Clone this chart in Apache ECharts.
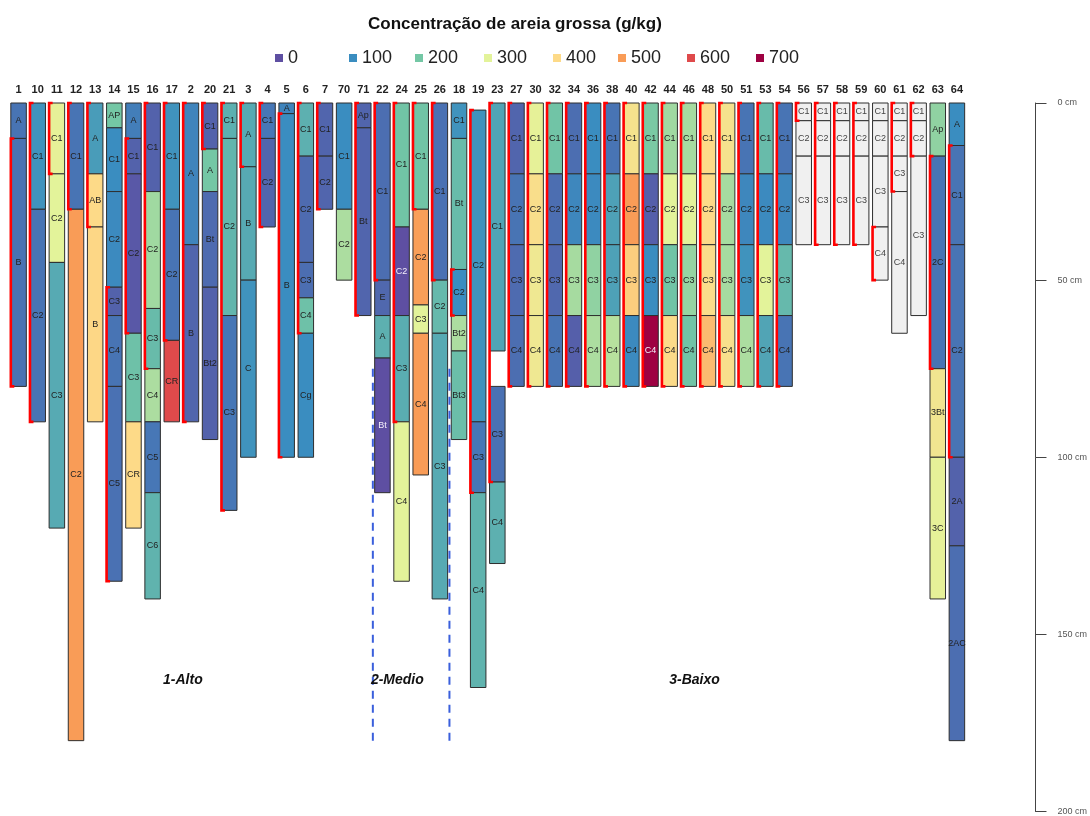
<!DOCTYPE html>
<html>
<head>
<meta charset="utf-8">
<script src="https://cdn.jsdelivr.net/npm/echarts@6/dist/echarts.min.js"></script>
<style>
  html, body { margin: 0; padding: 0; background: #ffffff; }
  #chart { width: 1090px; height: 816px; }
</style>
</head>
<body>
<div id="chart"></div>
<script>
// Profile order along the transect (column labels at the top)
const profiles = ['1','10','11','12','13','14','15','16','17','2','20','21','3','4','5','6','7','70','71',
                  '22','24','25','26',
                  '18','19','23','27','30','32','34','36','38','40','42','44','46','48','50','51','53','54',
                  '56','57','58','59','60','61','62','63','64'];

// Horizons: [profile, top cm, bottom cm, designation, coarse sand g/kg]
const horizonsAlto = [
  ['1',0,10,'A',60], ['1',10,80,'B',58],
  ['10',0,30,'C1',110], ['10',30,90,'C2',60],
  ['11',0,20,'C1',310], ['11',20,45,'C2',300], ['11',45,120,'C3',150],
  ['12',0,30,'C1',60], ['12',30,180,'C2',500],
  ['13',0,20,'A',125], ['13',20,35,'AB',400], ['13',35,90,'B',405],
  ['14',0,7,'AP',200], ['14',7,25,'C1',100], ['14',25,52,'C2',95], ['14',52,60,'C3',30], ['14',60,80,'C4',60], ['14',80,135,'C5',55],
  ['15',0,10,'A',75], ['15',10,20,'C1',30], ['15',20,65,'C2',15], ['15',65,90,'C3',190], ['15',90,120,'CR',400],
  ['16',0,25,'C1',30], ['16',25,58,'C2',240], ['16',58,75,'C3',180], ['16',75,90,'C4',250], ['16',90,110,'C5',65], ['16',110,140,'C6',165],
  ['17',0,30,'C1',110], ['17',30,67,'C2',60], ['17',67,90,'CR',600],
  ['2',0,40,'A',85], ['2',40,90,'B',35],
  ['20',0,13,'C1',30], ['20',13,25,'A',200], ['20',25,52,'Bt',45], ['20',52,95,'Bt2',30],
  ['21',0,10,'C1',160], ['21',10,60,'C2',170], ['21',60,115,'C3',65],
  ['3',0,18,'A',150], ['3',18,50,'B',150], ['3',50,100,'C',110],
  ['4',0,10,'C1',65], ['4',10,35,'C2',35],
  ['5',0,3,'A',85], ['5',3,100,'B',100],
  ['6',0,15,'C1',160], ['6',15,45,'C2',45], ['6',45,55,'C3',50], ['6',55,65,'C4',190], ['6',65,100,'Cg',100],
  ['7',0,15,'C1',35], ['7',15,30,'C2',35],
  ['70',0,30,'C1',100], ['70',30,50,'C2',250],
  ['71',0,7,'Ap',35], ['71',7,60,'Bt',35]
];

const horizonsMedio = [
  ['22',0,50,'C1',50], ['22',50,60,'E',40], ['22',60,72,'A',160], ['22',72,110,'Bt',0],
  ['24',0,35,'C1',195], ['24',35,60,'C2',0], ['24',60,90,'C3',155], ['24',90,135,'C4',300],
  ['25',0,30,'C1',195], ['25',30,57,'C2',495], ['25',57,65,'C3',300], ['25',65,105,'C4',500],
  ['26',0,50,'C1',55], ['26',50,65,'C2',175], ['26',65,140,'C3',150]
];

const horizonsBaixo = [
  ['18',0,10,'C1',110], ['18',10,47,'Bt',180], ['18',47,60,'C2',100], ['18',60,70,'Bt2',250], ['18',70,95,'Bt3',185],
  ['19',2,90,'C2',110], ['19',90,110,'C3',65], ['19',110,165,'C4',165],
  ['23',0,70,'C1',140], ['23',80,107,'C3',55], ['23',107,130,'C4',160],
  ['63',0,15,'Ap',225], ['63',15,75,'2C',60], ['63',75,100,'3Bt',355], ['63',100,140,'3C',310],
  ['64',0,12,'A',100], ['64',12,40,'C1',60], ['64',40,100,'C2',60], ['64',100,125,'2A',30], ['64',125,180,'2AC',50]
];

// Profiles sampled at fixed 20 cm layers (C1..C4, 0-80 cm)
const layerProfiles = ['27','30','32','34','36','38','40','42','44','46','48','50','51','53','54'];
const layerNames = ['C1','C2','C3','C4'];
const layerDepths = [0, 20, 40, 60, 80];
const layerC1 = [35, 310, 195, 50, 100, 60, 370, 205, 240, 245, 400, 370, 60, 180, 60];
const layerC2 = [60, 385, 50, 90, 95, 135, 500, 25, 300, 300, 400, 245, 90, 95, 90];
const layerC3 = [45, 345, 40, 245, 225, 135, 420, 100, 195, 230, 390, 245, 110, 300, 175];
const layerC4 = [50, 345, 60, 25, 250, 260, 95, 700, 395, 195, 450, 380, 250, 140, 60];

// Horizons without a coarse sand value: [profile, top, bottom, designation]
const horizonsNA = [
  ['56',0,5,'C1'], ['56',5,15,'C2'], ['56',15,40,'C3'],
  ['57',0,5,'C1'], ['57',5,15,'C2'], ['57',15,40,'C3'],
  ['58',0,5,'C1'], ['58',5,15,'C2'], ['58',15,40,'C3'],
  ['59',0,5,'C1'], ['59',5,15,'C2'], ['59',15,40,'C3'],
  ['60',0,5,'C1'], ['60',5,15,'C2'], ['60',15,35,'C3'], ['60',35,50,'C4'],
  ['61',0,5,'C1'], ['61',5,15,'C2'], ['61',15,25,'C3'], ['61',25,65,'C4'],
  ['62',0,5,'C1'], ['62',5,15,'C2'], ['62',15,60,'C3']
];

// Depth brackets marked on the left of profiles: [profile, top, bottom]
const brackets = [
  ['1',10,80], ['10',0,90], ['11',0,20], ['12',0,30], ['13',0,35], ['14',52,135], ['15',10,65], ['16',0,75], ['17',0,67],
  ['2',0,90], ['20',0,13], ['21',0,115], ['3',0,18], ['4',0,35], ['5',3,100], ['6',0,65], ['7',0,30], ['71',0,60],
  ['22',0,50], ['24',0,90], ['25',0,30], ['26',0,50],
  ['18',47,60], ['19',2,110], ['23',0,107],
  ['27',0,80], ['30',0,80], ['32',0,80], ['34',0,80], ['36',0,80], ['38',0,80], ['40',0,80], ['42',0,80],
  ['44',0,80], ['46',0,80], ['48',0,80], ['50',0,80], ['51',0,80], ['53',0,80], ['54',0,80],
  ['56',0,5], ['57',0,40], ['58',0,40], ['59',0,40], ['60',35,50], ['61',0,25], ['62',0,15],
  ['63',15,75], ['64',12,100]
];

// Landscape position groups
const dividers = [['71',75,180], ['26',75,180]];          // dashed boundaries after these profiles
const groupLabels = [['1-Alto',8.58,163], ['2-Medio',19.78,163], ['3-Baixo',35.3,163]];

// Colour scale
const legendValues = [0, 100, 200, 300, 400, 500, 600, 700];
const palette = ['#5E4FA2','#3A8DC0','#74C7A5','#E3F39A','#FDDA88','#F99C57','#DF4A4B','#9E0142'];
const depthTicks = [0, 50, 100, 150, 200];

// ---- assemble series data ----
const layerCols = [layerC1, layerC2, layerC3, layerC4];
const layerRows = [];
layerProfiles.forEach(function (p, i) {
  layerNames.forEach(function (n, j) {
    layerRows.push([p, layerDepths[j], layerDepths[j + 1], n, layerCols[j][i]]);
  });
});
const valued = [].concat(horizonsAlto, horizonsMedio, horizonsBaixo, layerRows);

const FONT = 'Liberation Sans, Arial, sans-serif';

function horizonRenderer(list, hasValue) {
  return function (params, api) {
    const r = list[params.dataIndex];
    const xi = api.value(0);
    const p0 = api.coord([xi, r[1]]);
    const p1 = api.coord([xi, r[2]]);
    const band = api.size([1, 0])[0];
    const w = band * 0.81;
    const fill = hasValue ? api.visual('color') : '#F0F0F0';
    let txt = '#222';
    if (hasValue && (r[4] < 10 || r[4] > 650)) txt = '#F4F0FA';
    if (!hasValue) txt = '#444';
    return {
      type: 'group',
      children: [
        { type: 'rect',
          shape: { x: p0[0] - w / 2, y: p0[1], width: w, height: p1[1] - p0[1] },
          style: { fill: fill, stroke: '#2e2e2e', lineWidth: 1 } },
        { type: 'text',
          style: { text: r[3], x: p0[0], y: (p0[1] + p1[1]) / 2, align: 'center', verticalAlign: 'middle',
                   fontSize: 9, fontFamily: FONT, fill: txt } }
      ]
    };
  };
}

function bracketRenderer(params, api) {
  const r = brackets[params.dataIndex];
  const xi = api.value(0);
  const p0 = api.coord([xi, r[1]]);
  const p1 = api.coord([xi, r[2]]);
  const band = api.size([1, 0])[0];
  const x = p0[0] - band * 0.81 / 2;
  return {
    type: 'polyline',
    shape: { points: [[x + 3.5, p0[1]], [x, p0[1]], [x, p1[1]], [x + 3.5, p1[1]]] },
    style: { stroke: '#FF0000', lineWidth: 2.6, fill: null }
  };
}

function dividerRenderer(params, api) {
  const r = dividers[params.dataIndex];
  const xi = api.value(0);
  const band = api.size([1, 0])[0];
  const p0 = api.coord([xi, r[1]]);
  const p1 = api.coord([xi, r[2]]);
  const x = p0[0] + band / 2;
  return {
    type: 'line',
    shape: { x1: x, y1: p0[1], x2: x, y2: p1[1] },
    style: { stroke: '#3A5FDC', lineWidth: 2, lineDash: [8, 6] }
  };
}

function groupLabelRenderer(params, api) {
  const r = groupLabels[params.dataIndex];
  const base = Math.floor(r[1]);
  const band = api.size([1, 0])[0];
  const p = api.coord([base, r[2]]);
  return {
    type: 'text',
    style: { text: r[0], x: p[0] + (r[1] - base) * band, y: p[1], align: 'center', verticalAlign: 'middle',
             fontSize: 14, fontWeight: 'bold', fontStyle: 'italic', fontFamily: FONT, fill: '#111' }
  };
}

// ---- colour key above the plot ----
const keyX = [275, 349, 415, 484, 553, 618, 687, 756];
const keyElements = [];
legendValues.forEach(function (v, i) {
  keyElements.push({ type: 'rect', left: keyX[i], top: 54, shape: { width: 8, height: 8 },
                     style: { fill: palette[i] } });
  keyElements.push({ type: 'text', left: keyX[i] + 13, top: 49,
                     style: { text: String(v), fontSize: 18, fontFamily: FONT, fill: '#222' } });
});

const chart = echarts.init(document.getElementById('chart'), null, { renderer: 'canvas' });
chart.setOption({
  animation: false,
  backgroundColor: '#ffffff',
  title: {
    text: 'Concentração de areia grossa (g/kg)',
    left: 368, top: 16, padding: 0,
    textStyle: { fontSize: 17, fontWeight: 'bold', fontFamily: FONT, color: '#111' }
  },
  graphic: keyElements,
  grid: { left: 9, right: 122, top: 103, bottom: 3 },
  xAxis: {
    type: 'category', data: profiles, position: 'top',
    axisLine: { show: false }, axisTick: { show: false }, splitLine: { show: false },
    axisLabel: { interval: 0, margin: 8, fontSize: 11, fontWeight: 'bold', fontFamily: FONT, color: '#222' }
  },
  yAxis: {
    type: 'value', inverse: true, min: depthTicks[0], max: depthTicks[depthTicks.length - 1], interval: 50,
    position: 'right', offset: 69,
    axisLine: { show: true, lineStyle: { color: '#444', width: 1 } },
    axisTick: { show: true, length: 11, lineStyle: { color: '#444' } },
    splitLine: { show: false },
    axisLabel: { margin: 22, fontSize: 9, fontFamily: FONT, color: '#555', formatter: '{value} cm' }
  },
  visualMap: {
    show: false, type: 'continuous', seriesIndex: 0, dimension: 3,
    min: legendValues[0], max: legendValues[legendValues.length - 1],
    inRange: { color: palette }
  },
  series: [
    { type: 'custom', name: 'horizontes', renderItem: horizonRenderer(valued, true),
      encode: { x: 0, y: [1, 2] },
      data: valued.map(function (r) { return [r[0], r[1], r[2], r[4]]; }) },
    { type: 'custom', name: 'sem dado', renderItem: horizonRenderer(horizonsNA, false),
      encode: { x: 0, y: [1, 2] },
      data: horizonsNA.map(function (r) { return [r[0], r[1], r[2]]; }) },
    { type: 'custom', name: 'colchetes', renderItem: bracketRenderer,
      encode: { x: 0, y: [1, 2] }, z: 5,
      data: brackets.map(function (r) { return [r[0], r[1], r[2]]; }) },
    { type: 'custom', name: 'divisões', renderItem: dividerRenderer,
      encode: { x: 0, y: [1, 2] },
      data: dividers.map(function (r) { return [r[0], r[1], r[2]]; }) },
    { type: 'custom', name: 'posições', renderItem: groupLabelRenderer,
      encode: { x: 0, y: 1 },
      data: groupLabels.map(function (r) { return [Math.floor(r[1]), r[2]]; }) }
  ]
});
</script>
</body>
</html>
